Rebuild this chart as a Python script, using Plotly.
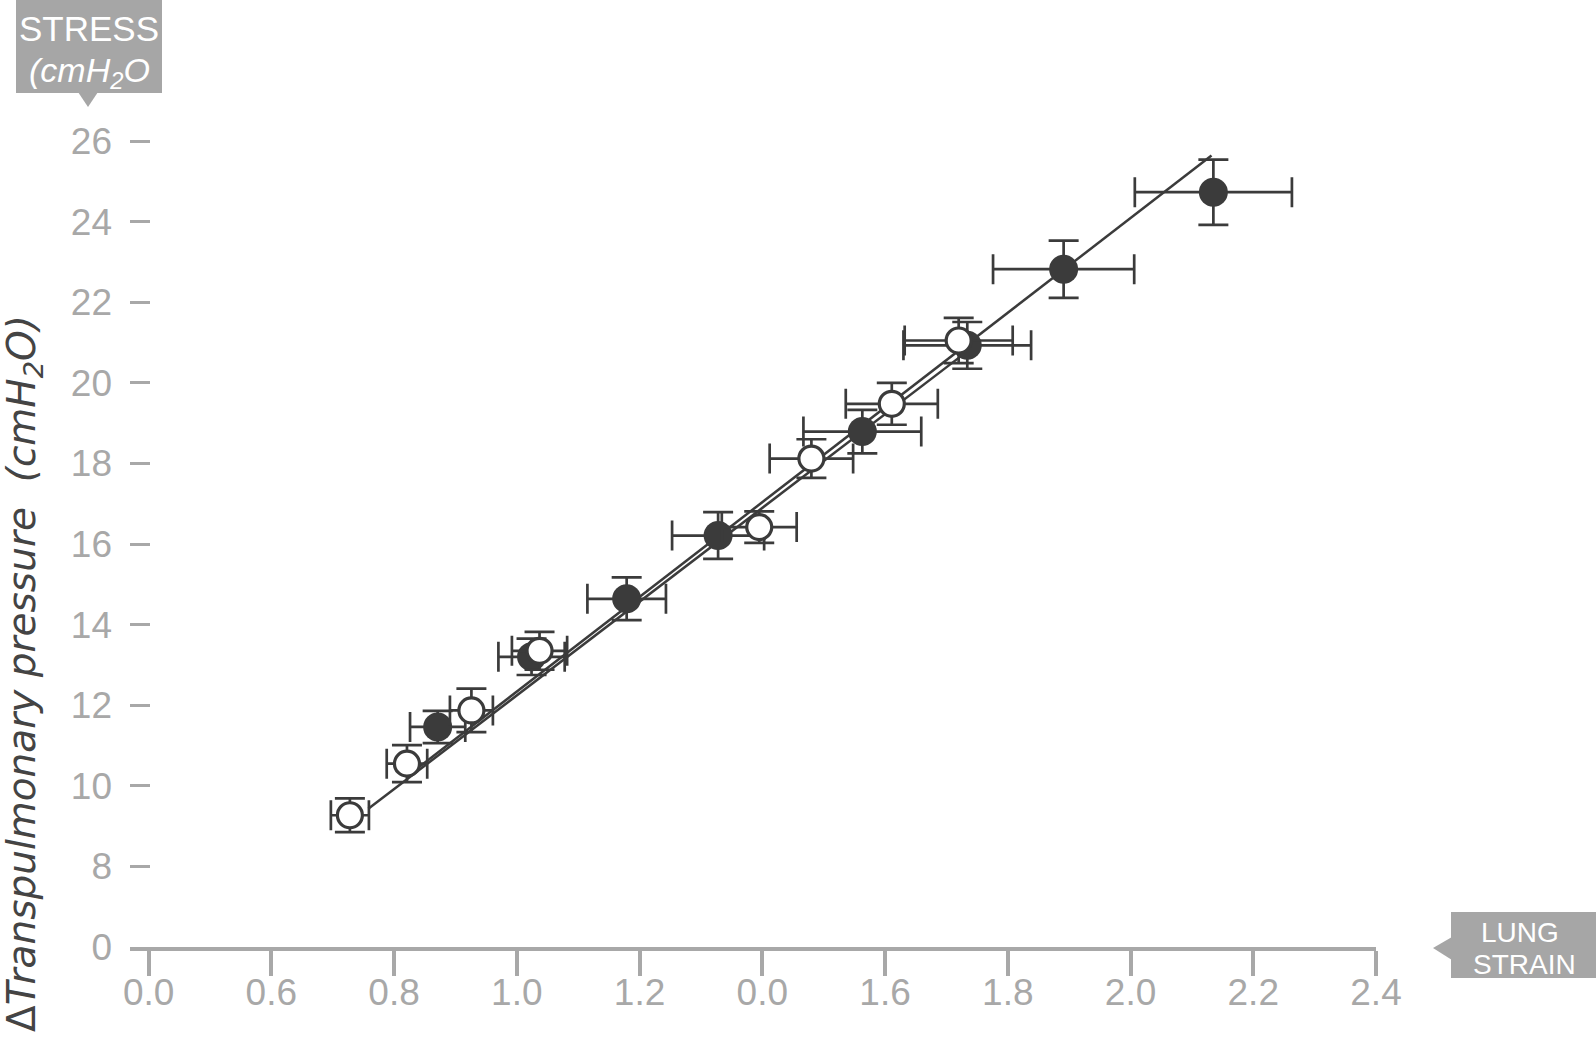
import plotly.graph_objects as go

# ---------------- data ----------------
filled_x = [0.871, 1.024, 1.179, 1.328, 1.563, 1.734, 1.891, 2.135]
filled_y = [11.46, 13.20, 14.64, 16.21, 18.79, 20.93, 22.82, 24.73]
filled_xerr = [0.045, 0.054, 0.064, 0.075, 0.096, 0.104, 0.115, 0.128]
filled_yerr = [0.40, 0.45, 0.53, 0.58, 0.54, 0.58, 0.71, 0.81]

open_x = [0.728, 0.821, 0.926, 1.037, 1.395, 1.480, 1.611, 1.720]
open_y = [9.27, 10.55, 11.87, 13.35, 16.42, 18.12, 19.48, 21.05]
open_xerr = [0.031, 0.033, 0.035, 0.045, 0.061, 0.068, 0.075, 0.088]
open_yerr = [0.42, 0.46, 0.54, 0.47, 0.39, 0.48, 0.52, 0.56]

filled_fit_x = [0.842, 2.132]
filled_fit_y = [10.48, 25.64]
open_fit_x = [0.758, 1.727]
open_fit_y = [9.43, 20.70]

x_tickvals = [0.4, 0.6, 0.8, 1.0, 1.2, 1.4, 1.6, 1.8, 2.0, 2.2, 2.4]
x_ticktext = ["0.0", "0.6", "0.8", "1.0", "1.2", "0.0", "1.6", "1.8", "2.0", "2.2", "2.4"]
y_tickvals = [6, 8, 10, 12, 14, 16, 18, 20, 22, 24, 26]
y_ticktext = ["0", "8", "10", "12", "14", "16", "18", "20", "22", "24", "26"]

# ---------------- style ----------------
W, H = 1596, 1051
ML, MR, MT, MB = 130, 220, 108, 104
DARK = "#3b3b3b"
GREY = "#a8a8a8"
BOX = "#a6a6a6"
FONT = "Liberation Sans, Arial, sans-serif"


def px_x(px):
    return (px - ML) / (W - ML - MR)


def px_y(py):
    return (H - MB - py) / (H - MT - MB)


fig = go.Figure()

for fx, fy in [(filled_fit_x, filled_fit_y), (open_fit_x, open_fit_y)]:
    fig.add_trace(go.Scatter(x=fx, y=fy, mode="lines",
                             line=dict(color=DARK, width=2.5),
                             showlegend=False, hoverinfo="skip"))

fig.add_trace(go.Scatter(
    x=filled_x, y=filled_y, mode="markers",
    marker=dict(size=29, color=DARK, line=dict(width=0)),
    error_x=dict(type="data", array=filled_xerr, color=DARK, thickness=2.7, width=15),
    error_y=dict(type="data", array=filled_yerr, color=DARK, thickness=2.7, width=15),
    showlegend=False, cliponaxis=False))

fig.add_trace(go.Scatter(
    x=open_x, y=open_y, mode="markers",
    marker=dict(size=25, color="white", line=dict(width=3.2, color=DARK)),
    error_x=dict(type="data", array=open_xerr, color=DARK, thickness=2.7, width=15),
    error_y=dict(type="data", array=open_yerr, color=DARK, thickness=2.7, width=15),
    showlegend=False, cliponaxis=False))

x0 = 0.4 - 18.6 / 613.7

fig.update_layout(
    width=W, height=H,
    margin=dict(l=ML, r=MR, t=MT, b=MB, autoexpand=False),
    paper_bgcolor="white", plot_bgcolor="white",
    font=dict(family=FONT, color=GREY),
    xaxis=dict(range=[x0, 2.4], tickvals=x_tickvals, ticktext=x_ticktext,
               showgrid=False, zeroline=False, showline=True, linecolor=GREY,
               linewidth=3.5, ticks="outside", ticklen=25, tickwidth=3.5,
               tickcolor=GREY, tickfont=dict(size=37, color=GREY, family=FONT),
               ticklabelstandoff=-15, automargin=False),
    yaxis=dict(range=[6, 26.82], tickvals=y_tickvals, ticktext=y_ticktext,
               showgrid=False, zeroline=False, showline=False,
               ticks="inside", ticklen=20, tickwidth=3, tickcolor=GREY,
               tickfont=dict(size=37, color=GREY, family=FONT),
               ticklabelstandoff=17, automargin=False),
)

# y-axis title
fig.add_annotation(
    xref="paper", yref="paper", x=px_x(24), y=px_y(674),
    text="Δ<i>Transpulmonary pressure&nbsp;&nbsp;(cmH<sub>2</sub>O)</i>",
    textangle=-90, showarrow=False, xanchor="center", yanchor="middle",
    font=dict(size=39, color="#444444", family="DejaVu Sans, sans-serif"))

# STRESS box
fig.add_shape(type="rect", xref="paper", yref="paper",
              x0=px_x(16), x1=px_x(162), y0=px_y(93), y1=px_y(0),
              fillcolor=BOX, line=dict(width=0), layer="above")
fig.add_shape(type="path", xref="paper", yref="paper",
              path=f"M {px_x(78)} {px_y(92)} L {px_x(98)} {px_y(92)} L {px_x(88)} {px_y(107)} Z",
              fillcolor=BOX, line=dict(width=0), layer="above")
fig.add_annotation(xref="paper", yref="paper", x=px_x(89), y=px_y(28),
                   text="STRESS", showarrow=False, xanchor="center", yanchor="middle",
                   font=dict(size=35, color="white", family=FONT))
fig.add_annotation(xref="paper", yref="paper", x=px_x(89), y=px_y(73),
                   text="<i>(cmH<sub>2</sub>O</i>", showarrow=False,
                   xanchor="center", yanchor="middle",
                   font=dict(size=34, color="white", family=FONT))

# LUNG STRAIN box
fig.add_shape(type="rect", xref="paper", yref="paper",
              x0=px_x(1451), x1=px_x(1596), y0=px_y(978), y1=px_y(912),
              fillcolor=BOX, line=dict(width=0), layer="above")
fig.add_shape(type="path", xref="paper", yref="paper",
              path=f"M {px_x(1452)} {px_y(937)} L {px_x(1452)} {px_y(960)} L {px_x(1433)} {px_y(948)} Z",
              fillcolor=BOX, line=dict(width=0), layer="above")
fig.add_annotation(xref="paper", yref="paper", x=px_x(1520), y=px_y(932),
                   text="LUNG", showarrow=False, xanchor="center", yanchor="middle",
                   font=dict(size=28, color="white", family=FONT))
fig.add_annotation(xref="paper", yref="paper", x=px_x(1524), y=px_y(964),
                   text="STRAIN", showarrow=False, xanchor="center", yanchor="middle",
                   font=dict(size=28, color="white", family=FONT))

fig.write_html("out.html",
               config={"displayModeBar": False},
               post_script="document.body.style.margin='0px';document.body.style.padding='0px';")
